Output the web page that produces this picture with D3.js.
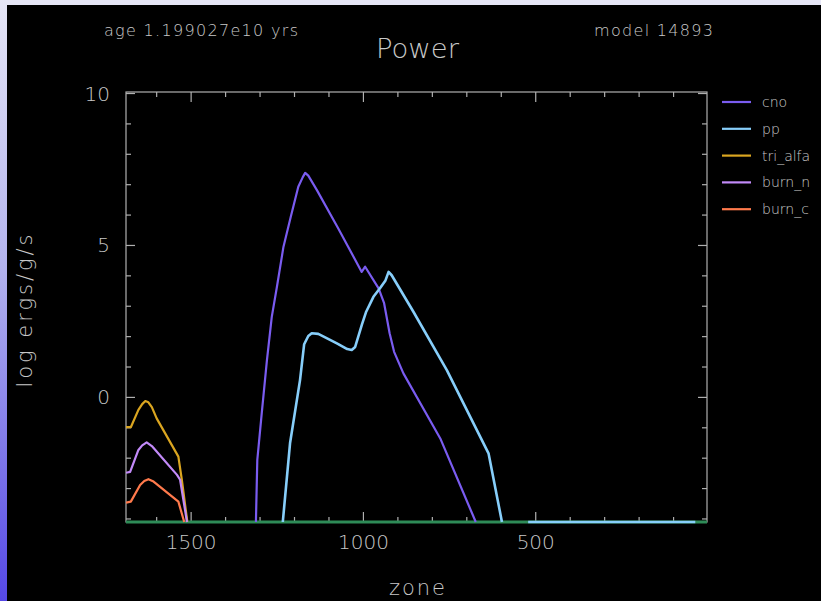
<!DOCTYPE html>
<html><head><meta charset="utf-8">
<script src="https://cdn.jsdelivr.net/npm/d3@7"></script>
<style>
html,body{margin:0;padding:0;background:#000;overflow:hidden}
svg{display:block}
text{font-family:"DejaVu Sans",sans-serif;font-weight:200;fill:#c8c8c8}
</style></head><body>
<svg id="c" width="821" height="601"></svg>
<script>
// ---- data (zone, log ergs/g/s) ----
const seriesNames = ["cno","pp","tri_alfa","burn_n","burn_c"];
const seriesColors = ["#7a5cf0","#87cefa","#daa520","#c28af8","#ff7a4c"];
const floorColor = "#2e8b57";
const yTickLabels = ["10","5","0"];
const xTickLabels = ["1500","1000","500"];

const cnoZone = [1312,1308,1295,1280,1266,1251,1232,1211,1189,1176,1169,1160,1135,1073,1005,995,956,940,924,911,884,777,674];
const cnoVal  = [-4.1,-2.06,-0.51,1.23,2.65,3.64,4.96,5.94,6.93,7.25,7.39,7.30,6.82,5.56,4.13,4.30,3.59,3.10,2.11,1.50,0.79,-1.35,-4.1];

const ppZone = [1234,1213,1184,1172,1160,1150,1131,1077,1047,1034,1024,1015,1004,992,971,952,936,927,918,855,758,637,598, null, 522,37];
const ppVal  = [-4.1,-1.51,0.57,1.75,2.02,2.11,2.09,1.78,1.59,1.56,1.66,2.00,2.41,2.82,3.31,3.59,3.85,4.13,4.02,2.82,0.90,-1.84,-4.1, null, -4.1,-4.1];

const triZone = [1689,1675,1653,1642,1633,1624,1614,1600,1537,1527,1511];
const triVal  = [-0.98,-0.98,-0.41,-0.22,-0.12,-0.16,-0.32,-0.69,-1.95,-2.71,-4.1];

const burnNZone = [1689,1677,1653,1642,1629,1614,1541,1532,1512];
const burnNVal  = [-2.48,-2.45,-1.73,-1.58,-1.48,-1.60,-2.55,-2.71,-4.1];

const burnCZone = [1689,1675,1648,1636,1624,1609,1537,1520];
const burnCVal  = [-3.46,-3.43,-2.88,-2.75,-2.69,-2.77,-3.43,-4.1];

const floorZone = [1689,3];
const floorVal  = [-4.1,-4.1];

// ---- layout ----
const svg = d3.select("#c");
const L=126, R=707, T=92, B=522;
const x = d3.scaleLinear().domain([1689,3]).range([L,R]);
const y = d3.scaleLinear().domain([-4.1,10.05]).range([B,T]);

// frame background
const defs = svg.append("defs");
const g1 = defs.append("linearGradient").attr("id","lg").attr("x1",0).attr("y1",0).attr("x2",0).attr("y2",1);
g1.append("stop").attr("offset","0%").attr("stop-color","#e6e6f6");
g1.append("stop").attr("offset","45%").attr("stop-color","#b2b2ee");
g1.append("stop").attr("offset","100%").attr("stop-color","#5548e6");
svg.append("rect").attr("x",0).attr("y",0).attr("width",821).attr("height",601).attr("fill","#000");
svg.append("rect").attr("x",0).attr("y",0).attr("width",821).attr("height",5).attr("fill","#e6e6f6");
svg.append("rect").attr("x",0).attr("y",0).attr("width",7).attr("height",601).attr("fill","url(#lg)");

defs.append("clipPath").attr("id","clip").append("rect")
  .attr("x",L).attr("y",T-2).attr("width",R-L+2).attr("height",B-T+4);

// axes box
const axisCol="#b0b0b0";
svg.append("rect").attr("x",L).attr("y",T).attr("width",R-L).attr("height",B-T)
  .attr("fill","none").attr("stroke",axisCol).attr("stroke-width",1.2);

// ticks
const xMinor = d3.range(100,1689,100);
const yMinor = d3.range(-4,11,1);
const tg = svg.append("g").attr("stroke",axisCol).attr("stroke-width",1.2);
xMinor.forEach(v=>{
  const len = (v%500===0)?10:5, px=x(v);
  tg.append("line").attr("x1",px).attr("x2",px).attr("y1",T).attr("y2",T+len);
  tg.append("line").attr("x1",px).attr("x2",px).attr("y1",B).attr("y2",B-len);
});
yMinor.forEach(v=>{
  const len = (v%5===0)?9:5, py=y(v);
  tg.append("line").attr("x1",L).attr("x2",L+len).attr("y1",py).attr("y2",py);
  tg.append("line").attr("x1",R).attr("x2",R-len).attr("y1",py).attr("y2",py);
});

// tick labels
yTickLabels.forEach(t=>{
  svg.append("text").attr("x",110).attr("y",y(+t)+7).attr("text-anchor","end")
    .attr("font-size",20).text(t);
});
xTickLabels.forEach(t=>{
  svg.append("text").attr("x",x(+t)).attr("y",549).attr("text-anchor","middle")
    .attr("font-size",20).text(t);
});

// lines
const line = d3.line().defined(d=>d[0]!==null).x(d=>x(d[0])).y(d=>y(d[1]));
const pg = svg.append("g").attr("clip-path","url(#clip)").attr("fill","none");
function zip(a,b){return a.map((v,i)=>[v,b[i]]);}
pg.append("path").datum(zip(floorZone,floorVal)).attr("d",line).attr("stroke",floorColor).attr("stroke-width",3.2);
const all = [[cnoZone,cnoVal],[ppZone,ppVal],[triZone,triVal],[burnNZone,burnNVal],[burnCZone,burnCVal]];
all.forEach((s,i)=>{
  pg.append("path").datum(zip(s[0],s[1])).attr("d",line)
    .attr("stroke",seriesColors[i]).attr("stroke-width",(i===1)?2.6:2.2)
    .attr("stroke-linejoin","round");
});

// legend
seriesNames.forEach((n,i)=>{
  const ly = 102 + i*26.8;
  svg.append("line").attr("x1",722).attr("x2",751).attr("y1",ly).attr("y2",ly)
    .attr("stroke",seriesColors[i]).attr("stroke-width",2.2);
  svg.append("text").attr("x",762).attr("y",ly+5).attr("font-size",14).text(n);
});

// titles
svg.append("text").attr("x",104).attr("y",36).attr("font-size",16)
  .attr("textLength",194).attr("lengthAdjust","spacing").text("age 1.199027e10 yrs");
svg.append("text").attr("x",594).attr("y",36).attr("font-size",16)
  .attr("textLength",119).attr("lengthAdjust","spacing").text("model 14893");
svg.append("text").attr("x",376).attr("y",58).attr("font-size",27)
  .attr("textLength",83).attr("lengthAdjust","spacingAndGlyphs").text("Power");
svg.append("text").attr("x",417).attr("y",595).attr("text-anchor","middle").attr("font-size",21)
  .attr("textLength",56).attr("lengthAdjust","spacing").text("zone");
svg.append("text").attr("transform","translate(32,311) rotate(-90)").attr("text-anchor","middle")
  .attr("font-size",21).attr("textLength",153).attr("lengthAdjust","spacing").text("log ergs/g/s");
</script>
</body></html>
